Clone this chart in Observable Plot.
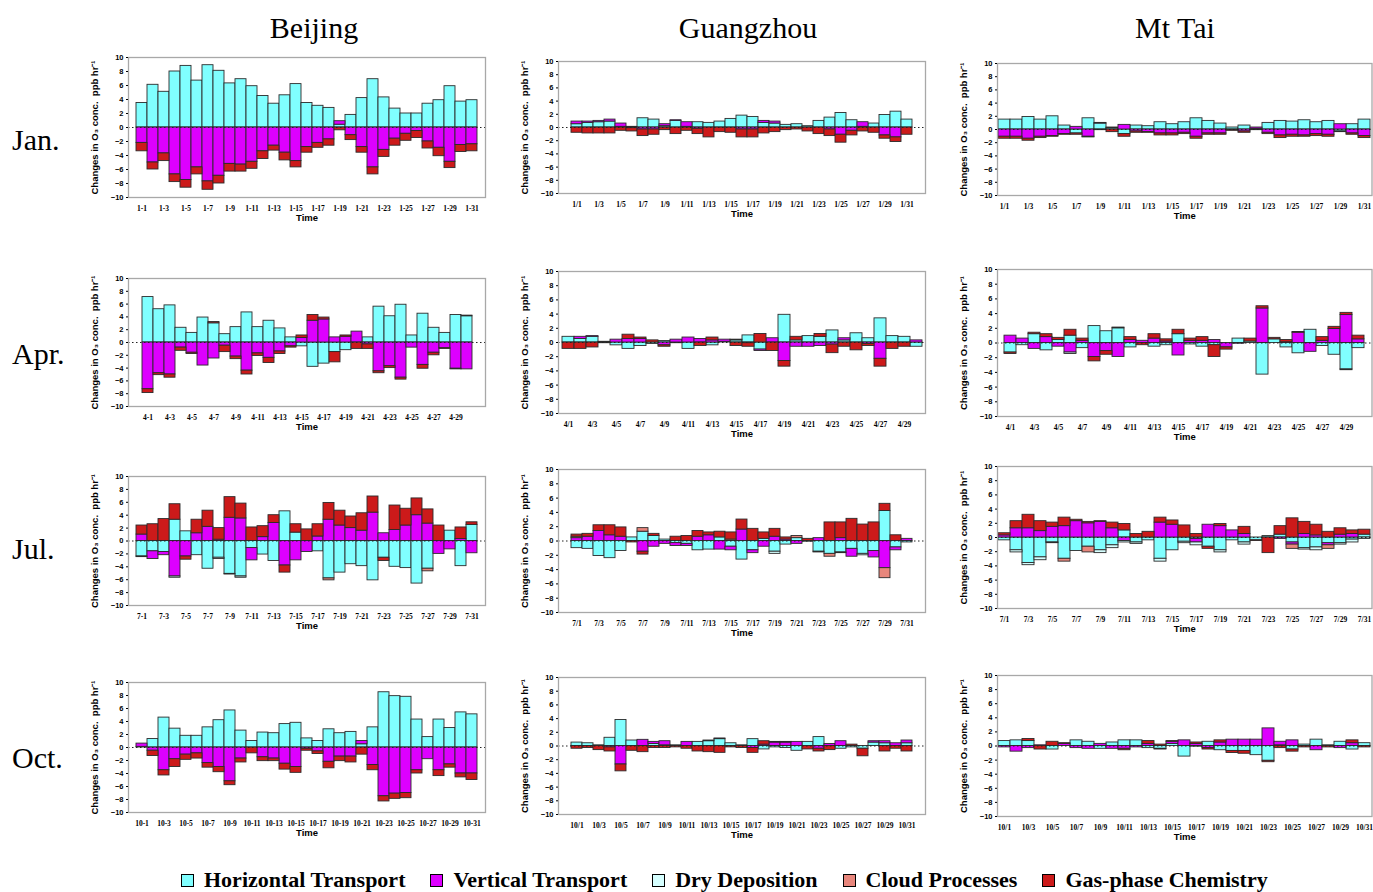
<!DOCTYPE html>
<html><head><meta charset="utf-8">
<script src="https://cdn.jsdelivr.net/npm/d3@7"></script>
<script src="https://cdn.jsdelivr.net/npm/@observablehq/plot@0.6"></script>
<style>
html,body{margin:0;padding:0;background:#fff;}
body{width:1373px;height:892px;position:relative;overflow:hidden;font-family:"Liberation Serif",serif;}
.panel{position:absolute;}
.coltitle{position:absolute;font-family:"Liberation Serif",serif;font-size:30px;transform:translate(-50%,-50%);white-space:nowrap;color:#000;}
.rowtitle{position:absolute;font-family:"Liberation Serif",serif;font-size:30px;transform:translate(0,-50%);white-space:nowrap;color:#000;}
#legend{position:absolute;left:181px;top:867px;display:flex;align-items:center;font-family:"Liberation Serif",serif;font-weight:bold;font-size:22px;white-space:nowrap;}
#legend .item{display:flex;align-items:center;margin-right:25px;}
#legend .sw{width:11px;height:11px;border:1px solid #000;margin-right:10px;}
</style></head>
<body>
<script>
const SERIES = ["Horizontal Transport","Vertical Transport","Dry Deposition","Cloud Processes","Gas-phase Chemistry"];
const COLORS = ["#80ffff","#dd00ff","#d6ffff","#e8867c","#cc1a1a"];
const SITES = ["Beijing","Guangzhou","Mt Tai"];
const MONTHS = ["Jan.","Apr.","Jul.","Oct."];
const MONTH_NUM = [1,4,7,10];
const DAYS_IN = [31,30,31,31];
const Y_TICKS = [-10,-8,-6,-4,-2,0,2,4,6,8,10];
const Y_LABEL = "Changes in O\u2083 conc.  ppb hr\u207B\u00B9";
const X_LABEL = "Time";

// ---- Beijing, January ----
const BJ_JAN_H = [3.5,6.1,5.1,8.0,8.8,6.7,8.9,8.1,6.3,6.9,5.9,4.5,3.4,4.6,6.2,3.5,3.1,2.8,0.4,1.8,4.2,6.9,4.3,2.7,2.0,2.0,3.4,3.9,5.9,3.7,3.9];
const BJ_JAN_V = [-2.2,-5.0,-3.7,-6.7,-7.5,-5.7,-7.7,-6.9,-5.2,-5.3,-4.9,-3.4,-2.6,-3.6,-4.8,-2.8,-2.2,-1.7,0.5,-1.1,-2.8,-5.7,-3.2,-1.6,-0.9,-0.5,-2.0,-2.9,-4.9,-2.5,-2.4];
const BJ_JAN_D = [0,0,0,0,0,0,0,0,0,0,0,0,0,0,0,0,0,0,0,0,0,0,0,0,0,0,0,0,0,0,0];
const BJ_JAN_C = [0,0,0,0,0,0,0,0,0,0,0,0,0,0,0,0,0,0,0,0,0,0,0,0,0,0,0,0,0,0,0];
const BJ_JAN_G = [-1.2,-1.0,-1.1,-1.1,-1.1,-1.0,-1.2,-1.1,-1.1,-1.0,-1.0,-1.1,-0.7,-1.1,-0.9,-0.8,-0.7,-0.9,-0.4,-0.7,-0.8,-1.0,-1.0,-1.0,-1.0,-1.0,-1.0,-1.2,-0.9,-1.0,-1.0];
// ---- Guangzhou, January ----
const GZ_JAN_H = [0.5,0.7,0.8,0.9,0.1,0.1,1.4,1.2,0.2,1.0,0.1,0.8,0.7,0.9,1.3,1.8,1.6,0.7,0.6,0.4,0.5,0.2,1.0,1.5,2.2,1.1,0.1,0.6,1.9,2.4,1.2];
const GZ_JAN_V = [0.4,0.2,0.2,0.3,0.5,-0.1,-0.3,-0.3,0.3,0.1,0.7,-0.2,0,0,0,-0.3,-0.3,0.3,0.3,0,0,0,0,-0.3,-1.1,-0.5,0.7,0,-1.2,-1.5,0];
const GZ_JAN_D = [0,0,0,0,0,0,0,0,0,0,0,0,0,0,0,0,0,0,0,0,0,0,0,0,0,0,0,0,0,0,0];
const GZ_JAN_C = [0,0,0,0,0,0,0,0,0,0,0,0,0,0,0,0,0,0,0,0,0,0,0,0,0,0,0,0,0,0,0];
const GZ_JAN_G = [-0.8,-0.9,-0.9,-0.9,-0.5,-0.5,-1.0,-0.8,-0.4,-1.0,-0.5,-0.8,-1.5,-0.7,-0.8,-1.2,-1.2,-0.9,-0.7,-0.4,-0.3,-0.6,-1.0,-1.0,-1.2,-0.7,-0.6,-0.8,-0.5,-0.7,-1.1];
// ---- Mt Tai, January ----
const MT_JAN_H = [1.5,1.5,1.9,1.5,2.0,0.6,-0.6,1.7,0.9,0.2,-0.7,0.6,0.5,1.1,0.8,1.1,1.7,1.3,0.9,0.3,0.6,0.1,1.0,1.3,1.2,1.4,1.1,1.3,-0.3,0.8,1.5];
const MT_JAN_V = [-1.1,-1.1,-1.4,-1.1,-1.0,-0.7,0.4,-1.1,0.1,0.1,0.7,-0.3,-0.4,-0.6,-0.6,-0.5,-1.1,-0.6,-0.6,-0.1,-0.3,0.2,-0.5,-0.9,-0.8,-0.9,-0.7,-0.8,0.8,-0.6,-1.0];
const MT_JAN_D = [0,0,0,0,0,0,0,0,0,0,0,0,0,0,0,0,0,0,0,0,0,0,0,0,0,0,0,0,0,0,0];
const MT_JAN_C = [0,0,0,0,0,0,0,0,0,0,0,0,0,0,0,0,0,0,0,0,0,0,0,0,0,0,0,0,0,0,0];
const MT_JAN_G = [-0.3,-0.3,-0.3,-0.2,-0.1,-0.1,-0.2,-0.1,-0.1,-0.4,-0.4,-0.2,-0.1,-0.3,-0.3,-0.2,-0.3,-0.2,-0.2,-0.1,-0.2,-0.1,-0.2,-0.4,-0.3,-0.2,-0.3,-0.3,-0.1,-0.2,-0.3];

// ---- Beijing, April ----
const BJ_APR_H = [7.1,5.2,5.8,2.3,1.5,3.9,3.0,1.3,2.4,4.7,2.4,3.4,2.2,0.8,-0.6,-3.8,-3.3,-1.5,-1.2,0,0.8,5.6,4.1,5.9,1.1,4.5,2.3,1.5,4.3,4.1];
const BJ_APR_V = [-7.3,-4.8,-5.0,-0.8,-1.6,-3.6,-2.5,-0.5,-2.2,-4.4,-1.7,-2.4,-1.4,-0.6,0.7,3.4,3.6,0.8,0.9,1.7,-0.3,-4.5,-3.7,-5.5,-0.8,-3.5,-1.6,-0.9,-4.1,-4.2];
const BJ_APR_D = [0,0,0,0,0,0,0,0,0,0,0,0,0,0,0,0,0,0,0,0,0,0,0,0,0,0,0,0,0,0];
const BJ_APR_C = [0,0,0,0,0,0,0,0,0,0,0,0,0,0,0,0,0,0,0,0,0,0,0,0,0,0,0,0,0,0];
const BJ_APR_G = [-0.6,-0.3,-0.5,-0.5,-0.2,0,0.2,-1.0,-0.4,-0.6,-0.4,-0.8,-0.4,-0.2,0.4,0.9,0.3,-1.6,0.2,-1.0,-0.7,-0.3,-0.3,-0.3,0,-0.6,-0.4,-0.1,-0.1,0.1];
// ---- Guangzhou, April ----
const GZ_APR_H = [0.8,0.5,0.8,0.1,-0.4,-0.9,-0.5,-0.2,0.2,-0.1,-0.9,0,-0.4,0.1,0.3,1.0,-1.0,0,3.9,0.3,0.9,0.8,1.7,0.3,1.3,0.6,3.4,0.9,0.8,-0.6];
const GZ_APR_V = [0,0.3,0.1,0,0.4,0.5,0.5,0,-0.4,0.4,0.7,0.5,0.3,0.3,0.1,-0.1,-0.2,0.6,-2.6,-0.6,-0.6,-0.5,-0.3,0.3,0,-0.2,-2.3,0,0,0.3];
const GZ_APR_D = [0,0,0,0,0,0,0,0,0,0,0,0,0,0,0,0,0,0,0,0,0,0,0,0,0,0,0,0,0,0];
const GZ_APR_C = [0,0,0,0,0,0,0,0,0,0,0,0,0,0,0,0,0,0,0,0,0,0,0,0,0,0,0,0,0,0];
const GZ_APR_G = [-0.9,-0.9,-0.7,-0.1,0,0.6,0.2,0.3,-0.2,0,0,-0.5,0.4,0,-0.5,-0.5,1.2,-1.2,-0.8,0.5,0,0.4,-1.2,-0.6,-1.1,-0.3,-1.1,-0.9,-0.6,0];
// ---- Mt Tai, April ----
const MT_APR_H = [-1.3,-0.3,1.2,-1.0,0.4,1.0,-0.7,2.3,1.6,2.0,-0.6,0,-0.5,-0.3,1.2,-0.2,-0.5,-0.3,0,0.6,0.2,-4.3,0.5,-0.6,-1.4,1.8,-0.4,-1.6,-3.6,-0.7];
const MT_APR_V = [1.0,0.6,-0.8,0.8,-0.5,-1.3,0.3,-1.9,-1.1,-1.9,0.4,0.3,0.6,0.2,-1.7,0.3,0.3,0.4,-0.6,-0.1,0,4.7,0,0.1,1.4,-1.2,0.3,1.9,3.8,0.5];
const MT_APR_D = [0,0,0,0,0,-0.2,0,0,0,0,0,0,0,0,0,0,0,0,0,0,0,0,0,0,0,0,0,0,-0.1,0];
const MT_APR_C = [0,0,0,0,0,0,0,0,0,0,0,0,0,0,0,0,0,0,0,0,0,0,0,0,0,0,0,0,0,0];
const MT_APR_G = [-0.2,0,0.2,0.4,0.3,0.8,0.3,-0.6,-0.5,0.1,0.4,-0.3,0.6,0.3,0.6,0.3,0.5,-1.6,-0.3,0,0.4,0.3,0.2,0.3,0.1,0,0.5,0.3,0.3,0.5];

// ---- Beijing, July ----
const BJ_JUL_H = [-2.4,-1.6,-1.7,3.3,1.5,-2.2,-4.3,-2.6,-5.1,-5.5,-1.1,-2.1,-3.1,4.6,1.3,0,-1.6,-5.8,-4.9,-3.6,-3.9,-6.1,-2.6,-4.0,-4.2,-6.6,-4.3,0,1.6,-3.9,2.5];
const BJ_JUL_V = [1.0,-1.2,-0.5,-5.5,-2.4,1.2,2.2,0.2,3.6,3.5,-1.9,0.6,2.8,-3.8,-3.0,-1.7,0.7,3.3,2.4,2.0,1.6,4.4,1.2,1.7,2.4,4.0,2.7,-2.0,-1.3,0.3,-1.9];
const BJ_JUL_D = [-0.1,0,0,-0.2,0,0,0,-0.2,-0.1,-0.2,0,0,0,0,0,0,0,0,0,0,0,0,0,0,0,0,0,0,0,0,0];
const BJ_JUL_C = [0,0,0,0,0,0,0,0,0,0,0,0,0,0,0,0,0,-0.3,0,0,0,0,0,0,0,0,-0.4,0,0,0,0];
const BJ_JUL_G = [1.4,2.6,3.4,2.4,-0.5,2.1,2.5,1.8,3.2,2.3,2.1,1.7,1.2,-1.1,1.3,1.8,1.9,2.6,2.3,1.8,2.7,2.5,-0.5,3.8,2.6,2.6,2.2,2.4,0,1.8,0.4];
// ---- Guangzhou, July ----
const GZ_JUL_H = [-1.0,-1.1,-2.1,-2.4,-1.4,0.5,1.3,0.7,0.2,-0.3,-0.4,-1.3,-1.2,0.5,-0.8,-2.6,-1.3,0.3,-1.5,-0.5,0.4,-0.1,-1.5,-1.8,-1.6,-1.1,-1.8,-1.4,4.2,-0.9,-0.2];
const GZ_JUL_V = [0.4,0.6,1.4,0.8,0.6,0,-1.5,-0.8,-0.4,-0.4,-0.3,0.6,0.8,-1.2,-0.5,1.6,-0.4,-0.8,0.6,0.2,-0.4,0,0.4,0,0.4,-1.1,0,-0.9,-3.8,-0.4,0.3];
const GZ_JUL_D = [0,0,0,0,0,0,0,0,0,0,0,0,0,0,0,0,0,0,-0.3,0,0,0,-0.1,0,-0.1,0,-0.2,0,0,0,0];
const GZ_JUL_C = [0.2,0,0,0,0,0,0.5,0,0,0,0,0,0,0,0.2,0,0,0,0,0,0.3,0,0,-0.4,0,0,0,0,-1.4,0,0];
const GZ_JUL_G = [0.3,0.4,0.8,1.4,1.3,-0.2,-0.4,0.3,0,0.6,0.7,0.8,0.4,0.8,1.0,1.4,1.7,0.9,1.1,0.3,0,0.3,0,2.6,2.2,3.1,2.3,2.6,1.0,0.8,0];
// ---- Mt Tai, July ----
const MT_JUL_H = [-0.4,-1.8,-3.6,-2.8,-0.7,-3.0,-1.9,-1.3,-1.8,-1.1,1.0,-0.7,-0.4,-3.0,-1.8,-0.6,-0.2,-1.3,-1.8,-0.4,-0.7,-0.4,0.2,0.4,-0.7,-1.5,-1.4,-0.8,-0.8,-0.3,0.4];
const MT_JUL_V = [0.3,1.3,1.3,0.9,1.5,1.6,2.3,2.0,2.2,1.3,-0.5,0,0,2.1,1.8,0,-0.5,1.8,1.6,1.0,0.5,0,0,-0.2,-0.3,0.5,0.3,-0.3,0.4,0.5,0];
const MT_JUL_D = [0,-0.3,-0.3,-0.4,-0.1,0,0,0,-0.4,-0.4,-0.2,-0.2,0,-0.4,0,-0.2,-0.4,0,-0.3,0,-0.3,0,0,0,0,-0.2,-0.4,0,-0.2,-0.4,-0.2];
const MT_JUL_C = [0,0,0,0,0,-0.4,0,-0.8,0,0,0,0,0,0,0,0,0,0,0,0,0,0,0,0,-0.6,0,0,-0.5,0,0,0];
const MT_JUL_G = [0.3,1.0,1.9,1.4,0.6,1.2,0.2,0.2,0.1,0.8,0.9,0.5,0.8,0.7,0.6,1.7,0.5,-0.3,0.3,0,1.0,-0.1,-2.2,1.2,2.7,1.7,1.5,0.8,0.9,0.5,0.7];

// ---- Beijing, October ----
const BJ_OCT_H = [0.1,1.3,4.6,2.9,1.8,1.8,3.1,4.2,5.7,2.6,1.0,2.3,2.2,3.6,3.8,1.4,1.0,2.8,2.2,2.4,0.5,3.1,8.5,7.9,7.8,4.3,1.6,4.3,3.0,5.4,5.1];
const BJ_OCT_V = [0.5,-0.5,-3.5,-1.8,-1.1,-0.9,-2.4,-3.0,-5.2,-1.7,0,-1.5,-1.7,-2.5,-3.0,-0.2,-0.6,-2.2,-1.4,-1.4,0.5,-2.7,-7.5,-7.1,-7.0,-3.5,-1.8,-3.5,-2.6,-4.0,-4.0];
const BJ_OCT_D = [0,0,0,0,0,0,0,0,0,0,0,0,0,0,0,0,0,0,0,0,0,0,0,0,0,0,0,0,0,0,0];
const BJ_OCT_C = [0,0,0,0,0,0,0,0,0,0,0,0,0,0,0,0,0,0,0,0,0,0,0,0,0,0,0,0,0,0,0];
const BJ_OCT_G = [0,-0.8,-0.8,-1.2,-0.8,-0.8,-0.7,-0.8,-0.6,-0.6,-0.9,-0.6,-0.4,-0.9,-0.9,-0.3,-0.4,-1.0,-0.7,-0.9,-1.1,-0.8,-0.8,-0.8,-0.8,-0.5,0,-0.9,-0.5,-0.6,-1.0];
// ---- Guangzhou, October ----
const GZ_OCT_H = [0.5,0.4,0.1,1.2,3.8,0.8,0,0.3,0.1,0.1,0,0.6,0.7,1.0,0.4,0.1,1.0,-0.5,-0.2,-0.3,-0.7,0.6,1.3,0,-0.4,-0.2,-0.4,0.5,0.4,0,0.4];
const GZ_OCT_V = [0,0,0,-0.2,-2.7,0,0.9,0.3,0.6,0,0.6,0,0.1,0.1,0,0,-0.3,0.2,0.5,0.5,0.6,0,-0.4,0.3,0.7,0,0,0.2,0.3,0.4,0.4];
const GZ_OCT_D = [0,0,0,0,0,0,0,0,0,0,0,0,0,0,0,0,0,0,0,0,0,0,0,0,0,0,0,0,0,0,0];
const GZ_OCT_C = [0,0,0,0,0,0,0,0,0,0,0,0,0,0,0,0,0,0,0,0,0,0,0,0,0,0,0,0,0,0,0];
const GZ_OCT_G = [-0.4,-0.3,-0.6,-0.6,-1.0,-0.7,-0.9,-0.3,-0.3,-0.2,-0.4,-0.8,-0.9,-1.0,-0.2,-0.3,-0.7,0.5,0.1,0.1,0,-0.5,-0.4,-0.6,0,0.2,-1.1,0,-0.8,-0.4,-0.8];
// ---- Mt Tai, October ----
const MT_OCT_H = [0.7,0.8,0.7,0,-0.5,0,0.8,0.6,-0.4,0.5,0.8,0.8,-0.3,-0.4,0.3,-1.5,-0.1,0.6,-0.6,-0.7,-0.7,-1.3,-2.1,0.1,-0.5,0.2,0.9,0.1,0.6,-0.5,0.4];
const MT_OCT_V = [-0.2,-0.8,-0.3,0.1,0,0.3,-0.3,-0.4,0.3,-0.4,-0.4,-0.2,0.3,-0.1,0.3,0.8,0.3,-0.3,0.5,0.9,0.9,0.9,2.5,0.5,0.8,0,-0.6,0,-0.3,0.4,0];
const MT_OCT_D = [0,0,0,0,0,0,0,0,0,0,0,0,0,0,0,0,0,0,0,0,0,0,0,0,0,0,0,0,0,0,0];
const MT_OCT_C = [0,0,0,0,0,0,0,0,0,0,0,0,0,0,0,0,0,0,0,0,0,0,0,0,0,0,0,0,0,0,0];
const MT_OCT_G = [0,0,0.3,-0.5,0.6,0.1,0,0,0,0,-0.2,0,0.4,0.2,0.1,0,0.2,-0.2,0.3,-0.3,-0.4,0,-0.2,-0.3,-0.3,-0.2,0,-0.2,0,0.4,-0.2];

// panels[row][col] -> five series arrays in SERIES order
const PANELS = [
  [[BJ_JAN_H,BJ_JAN_V,BJ_JAN_D,BJ_JAN_C,BJ_JAN_G],[GZ_JAN_H,GZ_JAN_V,GZ_JAN_D,GZ_JAN_C,GZ_JAN_G],[MT_JAN_H,MT_JAN_V,MT_JAN_D,MT_JAN_C,MT_JAN_G]],
  [[BJ_APR_H,BJ_APR_V,BJ_APR_D,BJ_APR_C,BJ_APR_G],[GZ_APR_H,GZ_APR_V,GZ_APR_D,GZ_APR_C,GZ_APR_G],[MT_APR_H,MT_APR_V,MT_APR_D,MT_APR_C,MT_APR_G]],
  [[BJ_JUL_H,BJ_JUL_V,BJ_JUL_D,BJ_JUL_C,BJ_JUL_G],[GZ_JUL_H,GZ_JUL_V,GZ_JUL_D,GZ_JUL_C,GZ_JUL_G],[MT_JUL_H,MT_JUL_V,MT_JUL_D,MT_JUL_C,MT_JUL_G]],
  [[BJ_OCT_H,BJ_OCT_V,BJ_OCT_D,BJ_OCT_C,BJ_OCT_G],[GZ_OCT_H,GZ_OCT_V,GZ_OCT_D,GZ_OCT_C,GZ_OCT_G],[MT_OCT_H,MT_OCT_V,MT_OCT_D,MT_OCT_C,MT_OCT_G]]
];

// layout: frame edges (page px)
const COL_X = [[127.5,484.5],[558,925],[996.5,1371]];
const ROW_Y = [
  [[57,197],[61,193],[63,195]],
  [[278,406],[271,413],[269,416]],
  [[476,605],[469,612],[466,608]],
  [[682,812],[677,814],[675,816]]
];
const ML = 50, MR = 2, MT = 6, MB = 34;

function makePanel(r, c) {
  const n = DAYS_IN[r], m = MONTH_NUM[r];
  const days = d3.range(1, n + 1);
  const rows = [];
  PANELS[r][c].forEach((arr, s) => {
    arr.forEach((v, i) => { if (v !== 0) rows.push({day: i + 1, series: SERIES[s], value: v}); });
  });
  const sep = c === 0 ? "-" : "/";
  const [x0, x1] = COL_X[c];
  const [y0, y1] = ROW_Y[r][c];
  const fw = x1 - x0, fh = y1 - y0;
  const chart = Plot.plot({
    width: fw + ML + MR, height: fh + MT + MB,
    marginLeft: ML, marginRight: MR, marginTop: MT, marginBottom: MB,
    style: {background: "transparent", overflow: "visible"},
    x: {type: "band", domain: days, padding: 0, axis: null},
    y: {domain: [-10, 10], axis: null},
    color: {domain: SERIES, range: COLORS},
    marks: [
      Plot.barY(rows, {x: "day", y: "value", fill: "series", stroke: "#2b2b2b", strokeWidth: 0.9}),
      Plot.ruleY([0], {stroke: "#222", strokeDasharray: "1.5,2.5", strokeWidth: 1}),
      Plot.frame({stroke: "#a8a8a8", strokeWidth: 1.3}),
      Plot.axisY({ticks: Y_TICKS, tickSize: 2, tickPadding: 3, fontSize: 7.5, fontWeight: "bold", fontFamily: "Liberation Sans, Arial, sans-serif", label: null}),
      Plot.axisX({ticks: days.filter(d => d % 2 === 1), tickFormat: d => `${m}${sep}${d}`, tickSize: 0, tickPadding: 8, fontSize: 7.5, fontWeight: "bold", fontFamily: "Liberation Serif, serif", label: null}),
      Plot.text([Y_LABEL], {text: d => d, frameAnchor: "left", textAnchor: "middle", rotate: -90, dx: -34, fontSize: 9.5, fontWeight: "bold", fontFamily: "Liberation Sans, Arial, sans-serif"}),
      Plot.text([X_LABEL], {text: d => d, frameAnchor: "bottom", dy: 23, fontSize: 9.5, fontWeight: "bold", fontFamily: "Liberation Sans, Arial, sans-serif"})
    ]
  });
  const div = document.createElement("div");
  div.className = "panel";
  div.style.left = (x0 - ML) + "px";
  div.style.top = (y0 - MT) + "px";
  div.appendChild(chart);
  document.body.appendChild(div);
}

for (let r = 0; r < 4; r++) for (let c = 0; c < 3; c++) makePanel(r, c);

// column titles
const COL_CENTER = [314, 748, 1175];
SITES.forEach((s, i) => {
  const d = document.createElement("div");
  d.className = "coltitle"; d.textContent = s;
  d.style.left = COL_CENTER[i] + "px"; d.style.top = "28px";
  document.body.appendChild(d);
});
// row titles
const ROW_CENTER = [140, 354, 549, 758];
MONTHS.forEach((s, i) => {
  const d = document.createElement("div");
  d.className = "rowtitle"; d.textContent = s;
  d.style.left = "12px"; d.style.top = ROW_CENTER[i] + "px";
  document.body.appendChild(d);
});
// legend
const leg = document.createElement("div");
leg.id = "legend";
SERIES.forEach((s, i) => {
  const it = document.createElement("div"); it.className = "item";
  const sw = document.createElement("div"); sw.className = "sw"; sw.style.background = COLORS[i];
  const tx = document.createElement("span"); tx.textContent = s;
  it.appendChild(sw); it.appendChild(tx); leg.appendChild(it);
});
document.body.appendChild(leg);
</script>
</body></html>
